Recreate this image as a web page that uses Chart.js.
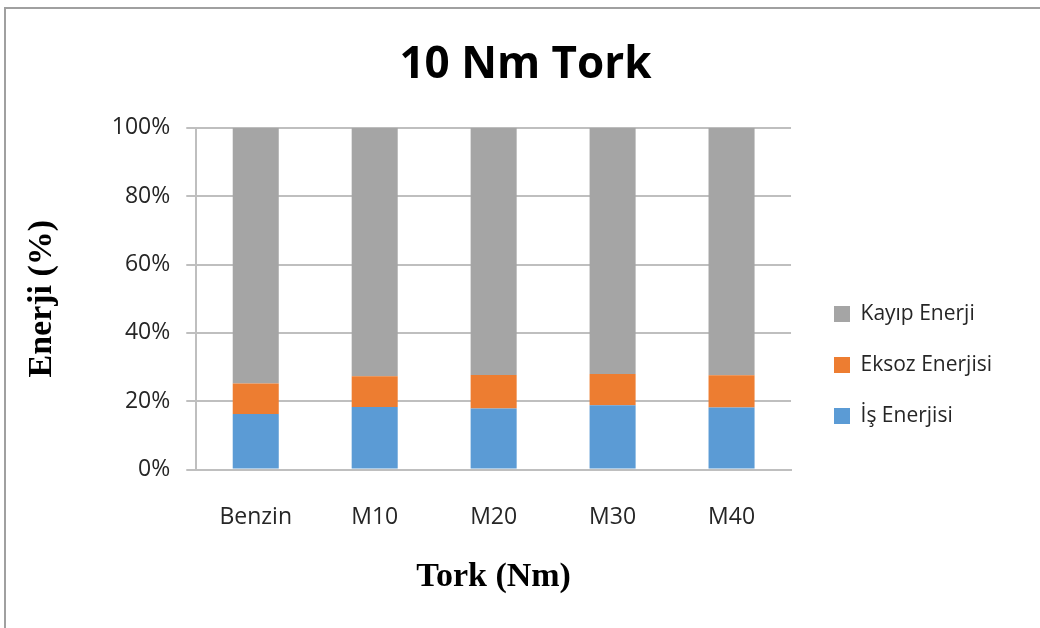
<!DOCTYPE html>
<html>
<head>
<meta charset="utf-8">
<script src="https://cdn.jsdelivr.net/npm/chart.js@4.4.1/dist/chart.umd.min.js"></script>
<style>
  body { margin: 0; background: #fff; }
  #frame {
    position: absolute; left: 4px; top: 7px; width: 1040px; height: 625px;
    border-top: 2px solid #a0a0a0; border-left: 2px solid #a0a0a0;
  }
  #wrap { position: absolute; left: -6px; top: -9px; width: 1040px; height: 628px; }
</style>
</head>
<body>
<div id="frame"><div id="wrap"><canvas id="torkChart" width="1040" height="628"></canvas></div></div>
<script>
// kategoriler ve seriler (%)
var categories  = ['Benzin', 'M10', 'M20', 'M30', 'M40'];
var isEnerji    = [16.3, 18.3, 17.9, 18.8, 18.2];
var eksozEnerji = [8.9, 9.0, 9.8, 9.2, 9.4];
var kayipEnerji = [74.8, 72.7, 72.3, 72.0, 72.4];
var yTicks      = [0, 20, 40, 60, 80, 100];

var tickFont = { family: 'Open Sans', size: 23 };

// nudge legend and title like in the excel original
var blockShift = {
    id: 'blockShift',
    afterLayout: function(chart) {
        var lg = chart.legend;
        lg.top += 66; lg.bottom += 66;
        lg.left += 13; lg.right += 13;
        var tb = chart.titleBlock;
        tb.left += 20; tb.right += 20;
    }
};

var ctx = document.getElementById('torkChart');

var torkChart = new Chart(ctx, {
    type: 'bar',
    data: {
        labels: categories,
        datasets: [{
            label: 'İş Enerjisi',
            data: isEnerji,
            backgroundColor: '#5b9bd5'
        }, {
            label: 'Eksoz Enerjisi',
            data: eksozEnerji,
            backgroundColor: '#ed7d31'
        }, {
            label: 'Kayıp Enerji',
            data: kayipEnerji,
            backgroundColor: '#a5a5a5'
        }]
    },
    plugins: [blockShift],
    options: {
        responsive: false,
        animation: false,
        categoryPercentage: 1,
        barPercentage: 0.387,
        layout: { padding: { left: 22, right: 51, bottom: 30 } },
        plugins: {
            title: {
                display: true,
                text: '10 Nm Tork',
                color: '#000',
                font: { family: 'Open Sans', size: 44, weight: 'bold' },
                padding: { top: 39, bottom: 36 }
            },
            legend: {
                position: 'right',
                reverse: true,
                labels: {
                    boxWidth: 16,
                    boxHeight: 16,
                    padding: 30,
                    color: '#262626',
                    font: { family: 'Open Sans', size: 21 }
                }
            },
            tooltip: { enabled: false }
        },
        scales: {
            x: {
                stacked: true,
                grid: { display: false },
                border: { color: '#bfbfbf', width: 2 },
                ticks: { color: '#262626', padding: 26, font: tickFont },
                title: {
                    display: true,
                    text: 'Tork (Nm)',
                    color: '#000',
                    padding: { top: 0, bottom: 0 },
                    font: { family: 'Liberation Serif', size: 34, weight: 'bold' }
                }
            },
            y: {
                stacked: true,
                min: 0,
                max: 100,
                afterBuildTicks: function(axis) {
                    axis.ticks = yTicks.map(function(v) { return { value: v }; });
                },
                grid: { color: '#bfbfbf', lineWidth: 2, drawTicks: true, tickLength: 10 },
                border: { display: true, color: '#bfbfbf', width: 2 },
                ticks: {
                    color: '#262626',
                    padding: 16,
                    font: tickFont,
                    callback: function(v) { return v + '%'; }
                },
                title: {
                    display: true,
                    text: 'Enerji (%)',
                    color: '#000',
                    padding: { top: 0, bottom: 33 },
                    font: { family: 'Liberation Serif', size: 34, weight: 'bold' }
                }
            }
        }
    }
});
</script>
</body>
</html>
